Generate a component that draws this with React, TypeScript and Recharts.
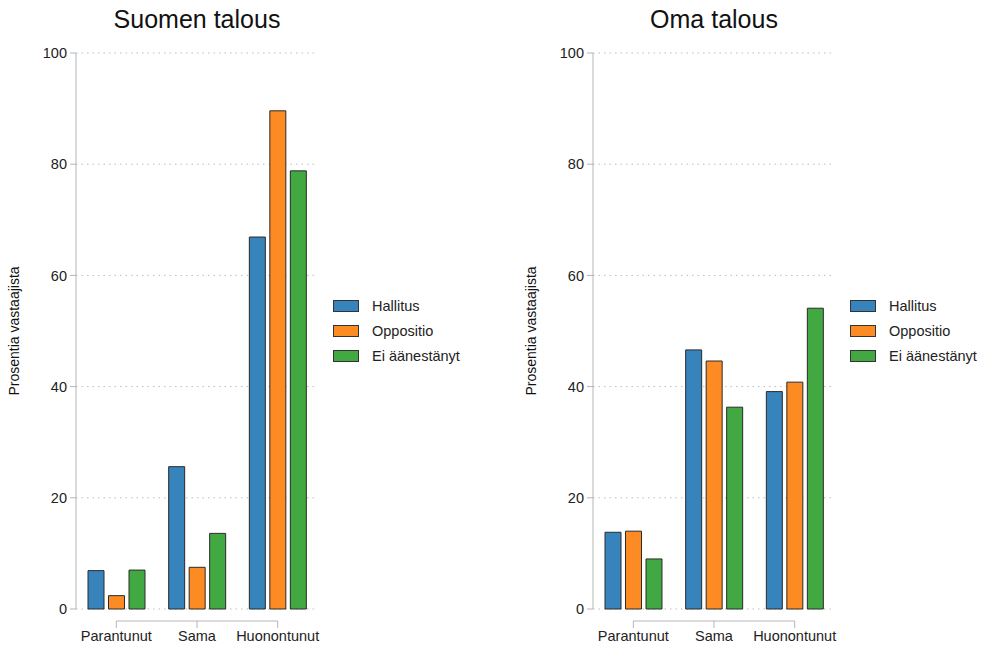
import { BarChart, Bar, XAxis, YAxis, CartesianGrid } from 'recharts';

const categories = ['Parantunut', 'Sama', 'Huonontunut'];
const seriesNames = ['Hallitus', 'Oppositio', 'Ei äänestänyt'];
const seriesColors = ['#3784bd', '#fd8b23', '#42a942'];
const yTicks = [0, 20, 40, 60, 80, 100];

// Suomen talous
const suomiHallitus = [6.9, 25.6, 66.9];
const suomiOppositio = [2.4, 7.5, 89.6];
const suomiEiAanestanyt = [7.0, 13.6, 78.8];

// Oma talous
const omaHallitus = [13.8, 46.6, 39.1];
const omaOppositio = [14.0, 44.6, 40.8];
const omaEiAanestanyt = [9.0, 36.3, 54.1];

const FONT = 'Liberation Sans, Arial, sans-serif';
const CHART_W = 500;
const CHART_H = 648;
const AXIS_X = 76;
const PLOT_RIGHT = 318;
const BAND = (PLOT_RIGHT - AXIS_X) / categories.length;

function buildRows(a: number[], b: number[], c: number[]) {
  return categories.map((cat, i) => ({
    cat,
    [seriesNames[0]]: a[i],
    [seriesNames[1]]: b[i],
    [seriesNames[2]]: c[i],
  }));
}

function CategoryTick(props: any) {
  const { x, y, payload, index } = props;
  const lineY = y + 12;
  const x1 = index === 0 ? x : x - BAND / 2;
  const x2 = index === categories.length - 1 ? x : x + BAND / 2;
  return (
    <g>
      <line x1={x1} x2={x2} y1={lineY} y2={lineY} stroke="#b5b5b5" strokeWidth={1} />
      <line x1={x} x2={x} y1={lineY} y2={lineY + 7} stroke="#b5b5b5" strokeWidth={1} />
      <text x={x} y={y + 32} textAnchor="middle" fontSize={14.5} fill="#222" fontFamily={FONT}>
        {payload.value}
      </text>
    </g>
  );
}

function LegendBox() {
  return (
    <div
      style={{
        position: 'absolute',
        left: 333,
        top: 293,
        fontFamily: FONT,
        fontSize: 14.5,
        color: '#222',
        whiteSpace: 'nowrap',
      }}
    >
      {seriesNames.map((name, i) => (
        <div key={name} style={{ display: 'flex', alignItems: 'center', height: 25 }}>
          <div
            style={{
              width: 24,
              height: 10,
              background: seriesColors[i],
              border: '1px solid #333',
              marginRight: 13,
            }}
          />
          <span>{name}</span>
        </div>
      ))}
    </div>
  );
}

function Panel({ title, data, left }: { title: string; data: any[]; left: number }) {
  return (
    <div style={{ position: 'absolute', left, top: 0, width: CHART_W, height: CHART_H }}>
      <div
        style={{
          position: 'absolute',
          left: AXIS_X,
          width: PLOT_RIGHT - AXIS_X,
          top: 5,
          textAlign: 'center',
          fontFamily: FONT,
          fontSize: 25,
          color: '#111',
          whiteSpace: 'nowrap',
        }}
      >
        {title}
      </div>
      <BarChart
        width={CHART_W}
        height={CHART_H}
        data={data}
        margin={{ top: 53, right: CHART_W - PLOT_RIGHT, bottom: 0, left: 0 }}
        barSize={16}
        barGap={4.5}
      >
        <CartesianGrid
          vertical={false}
          stroke="#bdbdbd"
          strokeDasharray="1.5 4"
          horizontalValues={yTicks}
        />
        <XAxis
          dataKey="cat"
          height={39}
          axisLine={false}
          tickLine={false}
          tickSize={0}
          tickMargin={0}
          interval={0}
          tick={<CategoryTick />}
        />
        <YAxis
          width={AXIS_X}
          domain={[0, 100]}
          ticks={yTicks}
          stroke="#b5b5b5"
          tickSize={6}
          tickMargin={3}
          tick={{ fill: '#222', fontSize: 14.5, fontFamily: FONT }}
          label={{
            value: 'Prosentia vastaajista',
            angle: -90,
            position: 'insideLeft',
            offset: 14,
            style: { textAnchor: 'middle', fontSize: 14, fill: '#111', fontFamily: FONT },
          }}
        />
        {seriesNames.map((name, i) => (
          <Bar
            key={name}
            dataKey={name}
            fill={seriesColors[i]}
            stroke="#2a2a2a"
            strokeWidth={1}
            isAnimationActive={false}
          />
        ))}
      </BarChart>
      <LegendBox />
    </div>
  );
}

export default function App() {
  const suomiData = buildRows(suomiHallitus, suomiOppositio, suomiEiAanestanyt);
  const omaData = buildRows(omaHallitus, omaOppositio, omaEiAanestanyt);
  return (
    <div
      style={{
        position: 'absolute',
        left: 0,
        top: 0,
        width: 985,
        height: 648,
        background: '#fff',
        overflow: 'hidden',
      }}
    >
      <Panel title="Suomen talous" data={suomiData} left={0} />
      <Panel title="Oma talous" data={omaData} left={517} />
    </div>
  );
}
